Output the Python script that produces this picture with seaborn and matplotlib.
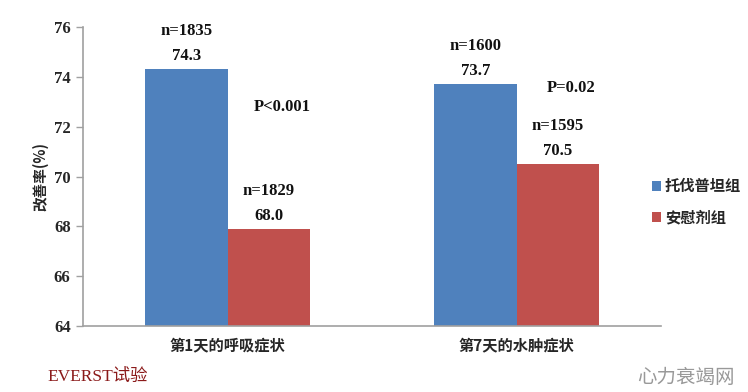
import matplotlib
matplotlib.use("Agg")
import matplotlib.pyplot as plt
import seaborn as sns
import pandas as pd

categories = ["第1天的呼吸症状", "第7天的水肿症状"]
groups = ["托伐普坦组", "安慰剂组"]
tolvaptan = [74.3, 73.7]
placebo = [67.9, 70.5]
value_labels_tol = ["74.3", "73.7"]
value_labels_pla = ["68.0", "70.5"]
n_tol = ["n=1835", "n=1600"]
n_pla = ["n=1829", "n=1595"]
p_texts = ["P<0.001", "P=0.02"]
p_y = [72.8, 73.55]
yticks = [64, 66, 68, 70, 72, 74, 76]

colors = ["#4F81BD", "#C0504D"]

df = pd.DataFrame({
    "cat": categories * 2,
    "group": [groups[0]] * 2 + [groups[1]] * 2,
    "val": tolvaptan + placebo,
})

sns.set_theme(style="white")
plt.rcParams['font.family'] = ['Noto Sans CJK SC', 'DejaVu Sans']

fig = plt.figure(figsize=(7.48, 3.92), dpi=100)
ax = fig.add_axes([0.111, 0.168, 0.773, 0.763])

sns.barplot(data=df, x="cat", y="val", hue="group", palette=colors,
            width=0.57, ax=ax, legend=True, saturation=1, linewidth=0)

ax.set_ylim(64, 76)
ax.set_yticks(yticks)
ax.set_xlim(-0.5, 1.5)
serif = ['Liberation Serif', 'DejaVu Serif']
ax.set_yticklabels([str(t) for t in yticks], fontfamily=serif, fontweight='bold', fontsize=12)
ax.set_xticks([0, 1])
ax.set_xticklabels(categories, fontweight='bold', fontsize=11)
ax.set_xticks([-0.5, 0.5, 1.5], minor=True)
ax.tick_params(axis='x', which='major', length=0, pad=8)
ax.tick_params(axis='x', which='minor', length=5, color='#a0a0a0', width=1, direction='out')
ax.tick_params(axis='y', length=5, color='#a0a0a0', width=1, direction='out', pad=4, left=True)
ax.set_xlabel("")
ax.set_ylabel("改善率(%)", fontweight='bold', fontsize=10.5, labelpad=4)

for s in ['top', 'right']:
    ax.spines[s].set_visible(False)
for s in ['left', 'bottom']:
    ax.spines[s].set_color('#a0a0a0')
    ax.spines[s].set_linewidth(1.2)

# bars: containers[0] = tolvaptan, containers[1] = placebo
for cont, vlabels, nlabels in [(ax.containers[0], value_labels_tol, n_tol),
                               (ax.containers[1], value_labels_pla, n_pla)]:
    for bar, vl, nl in zip(cont, vlabels, nlabels):
        cx = bar.get_x() + bar.get_width() / 2
        top = bar.get_height()
        ax.annotate(vl, (cx, top), xytext=(0, 13), textcoords='offset pixels',
                    ha='center', va='center', fontfamily=serif, fontweight='bold',
                    fontsize=12, color='#111111')
        ax.annotate(nl, (cx, top), xytext=(0, 38), textcoords='offset pixels',
                    ha='center', va='center', fontfamily=serif, fontweight='bold',
                    fontsize=12, color='#111111', annotation_clip=False)

for i, (pt, py) in enumerate(zip(p_texts, p_y)):
    ax.text(i + 0.19, py, pt, ha='center', va='center', fontfamily=serif,
            fontweight='bold', fontsize=12, color='#111111')

handles, labels = ax.get_legend_handles_labels()
ax.legend(handles, labels, loc='center left', bbox_to_anchor=(0.853, 0.485),
          bbox_transform=fig.transFigure, frameon=False,
          prop={'family': ['Noto Sans CJK SC'], 'weight': 'bold', 'size': 11},
          handlelength=0.6, handleheight=0.6, handletextpad=0.25, labelspacing=1.0)

fig.text(0.063, 0.038, "EVERST试验", color='#8B1A1A', fontsize=12.5,
         fontfamily=['Liberation Serif', 'Noto Sans CJK SC'], va='center', ha='left')
fig.text(0.982, 0.038, "心力衰竭网", color='#999999', fontsize=14,
         va='center', ha='right')

fig.savefig("out.png", dpi=100, facecolor='white')
